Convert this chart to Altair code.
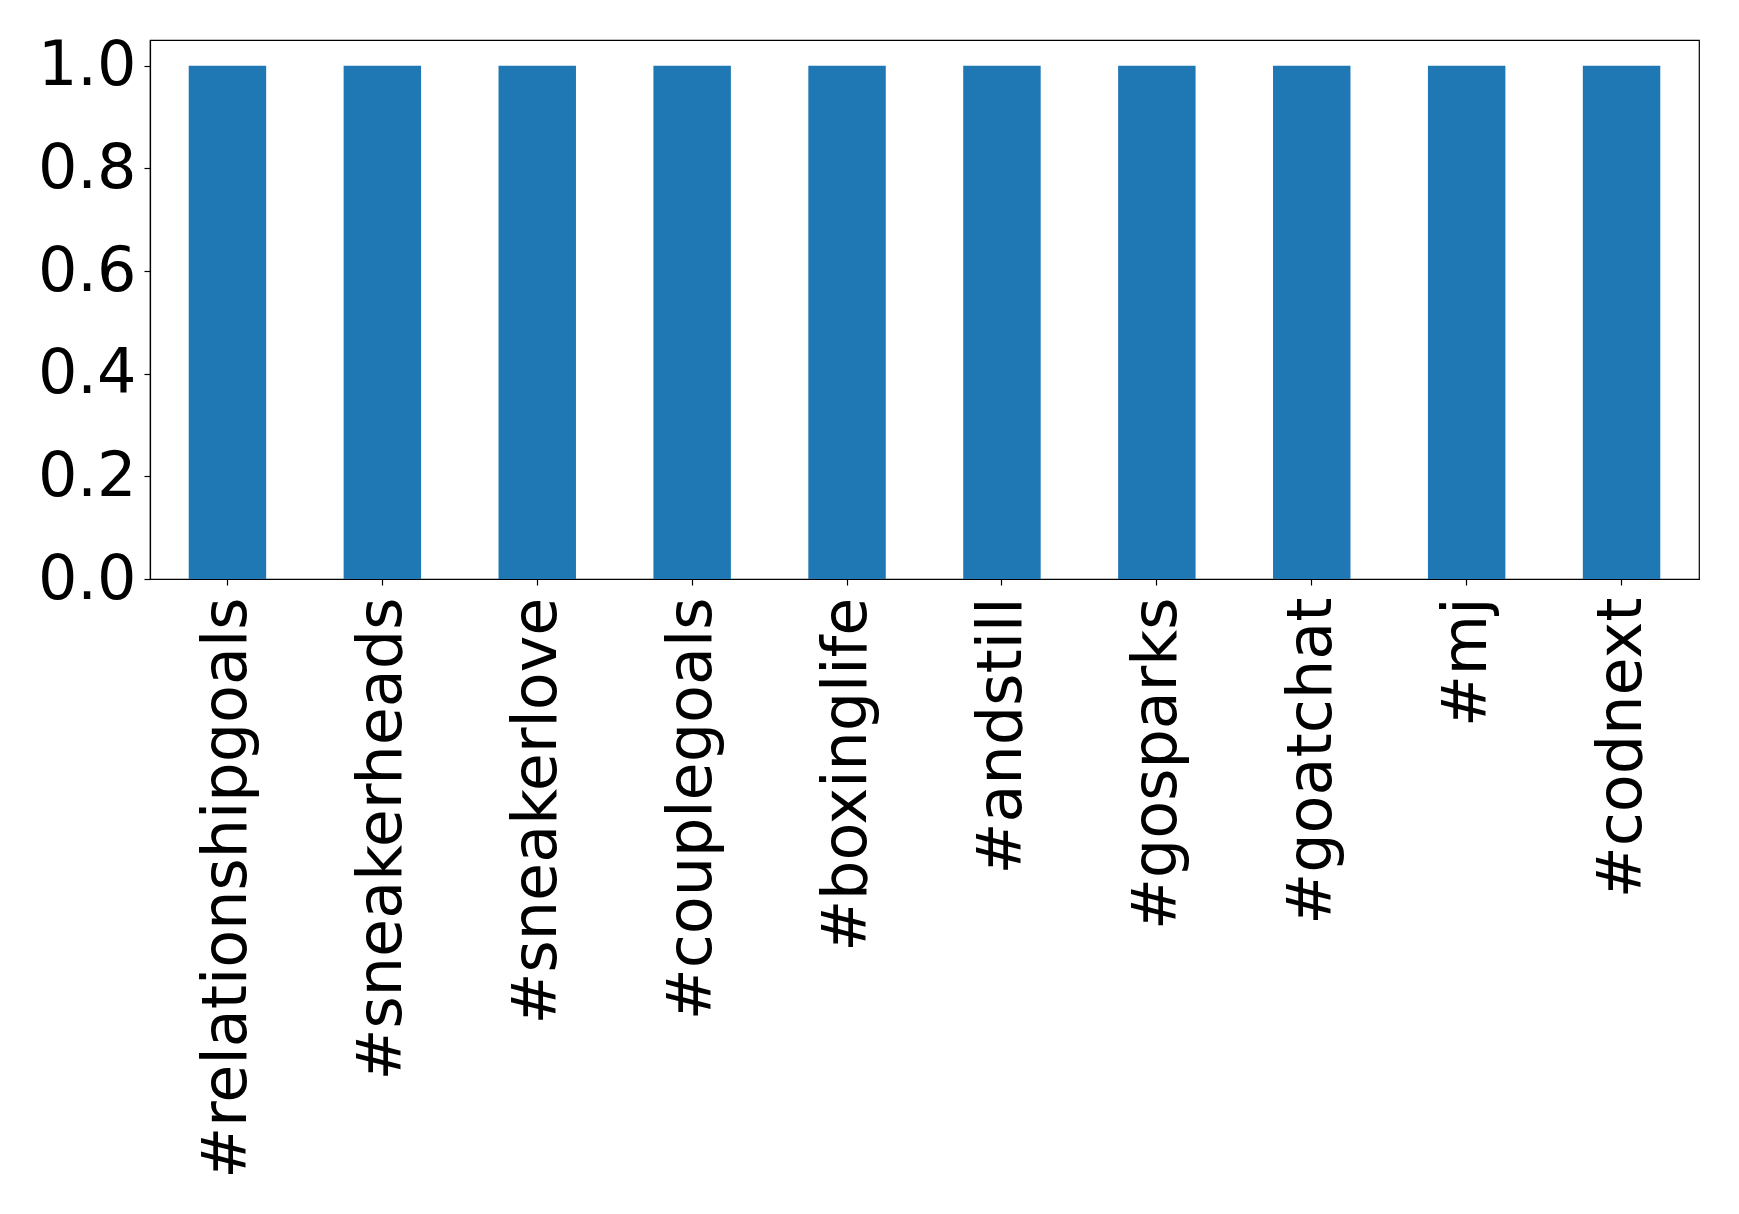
import altair as alt
import pandas as pd

hashtags = ["#relationshipgoals", "#sneakerheads", "#sneakerlove", "#couplegoals",
            "#boxinglife", "#andstill", "#gosparks", "#goatchat", "#mj", "#codnext"]
values = [1.0, 1.0, 1.0, 1.0, 1.0, 1.0, 1.0, 1.0, 1.0, 1.0]

df = pd.DataFrame({"tag": hashtags, "value": values})

chart = alt.Chart(df).mark_bar(color="#1f77b4").encode(
    x=alt.X("tag:N", sort=hashtags,
            scale=alt.Scale(paddingInner=0.5, paddingOuter=0.25),
            axis=alt.Axis(title=None, labelAngle=270, labelFontSize=62, labelFont="DejaVu Sans",
                          labelColor="black", tickColor="black", tickSize=6, labelPadding=12,
                          domainColor="black", labelLimit=0, labelAlign="right",
                          labelBaseline="middle")),
    y=alt.Y("value:Q", scale=alt.Scale(domain=[0, 1.05], nice=False, zero=True),
            axis=alt.Axis(title=None, values=[0, 0.2, 0.4, 0.6, 0.8, 1.0], format=".1f",
                          labelFontSize=62, labelFont="DejaVu Sans", labelColor="black",
                          tickColor="black", tickSize=6, labelPadding=8, grid=False,
                          domainColor="black")),
).properties(
    width=1549, height=539,
    autosize=alt.AutoSizeParams(type="none"),
    padding={"left": 142, "top": 32, "right": 30, "bottom": 620},
).configure_view(stroke="black", strokeWidth=1.2).configure_axis(domainWidth=1.2, tickWidth=1.2)

chart.save("out.html", embed_options={"renderer": "svg", "actions": False})
